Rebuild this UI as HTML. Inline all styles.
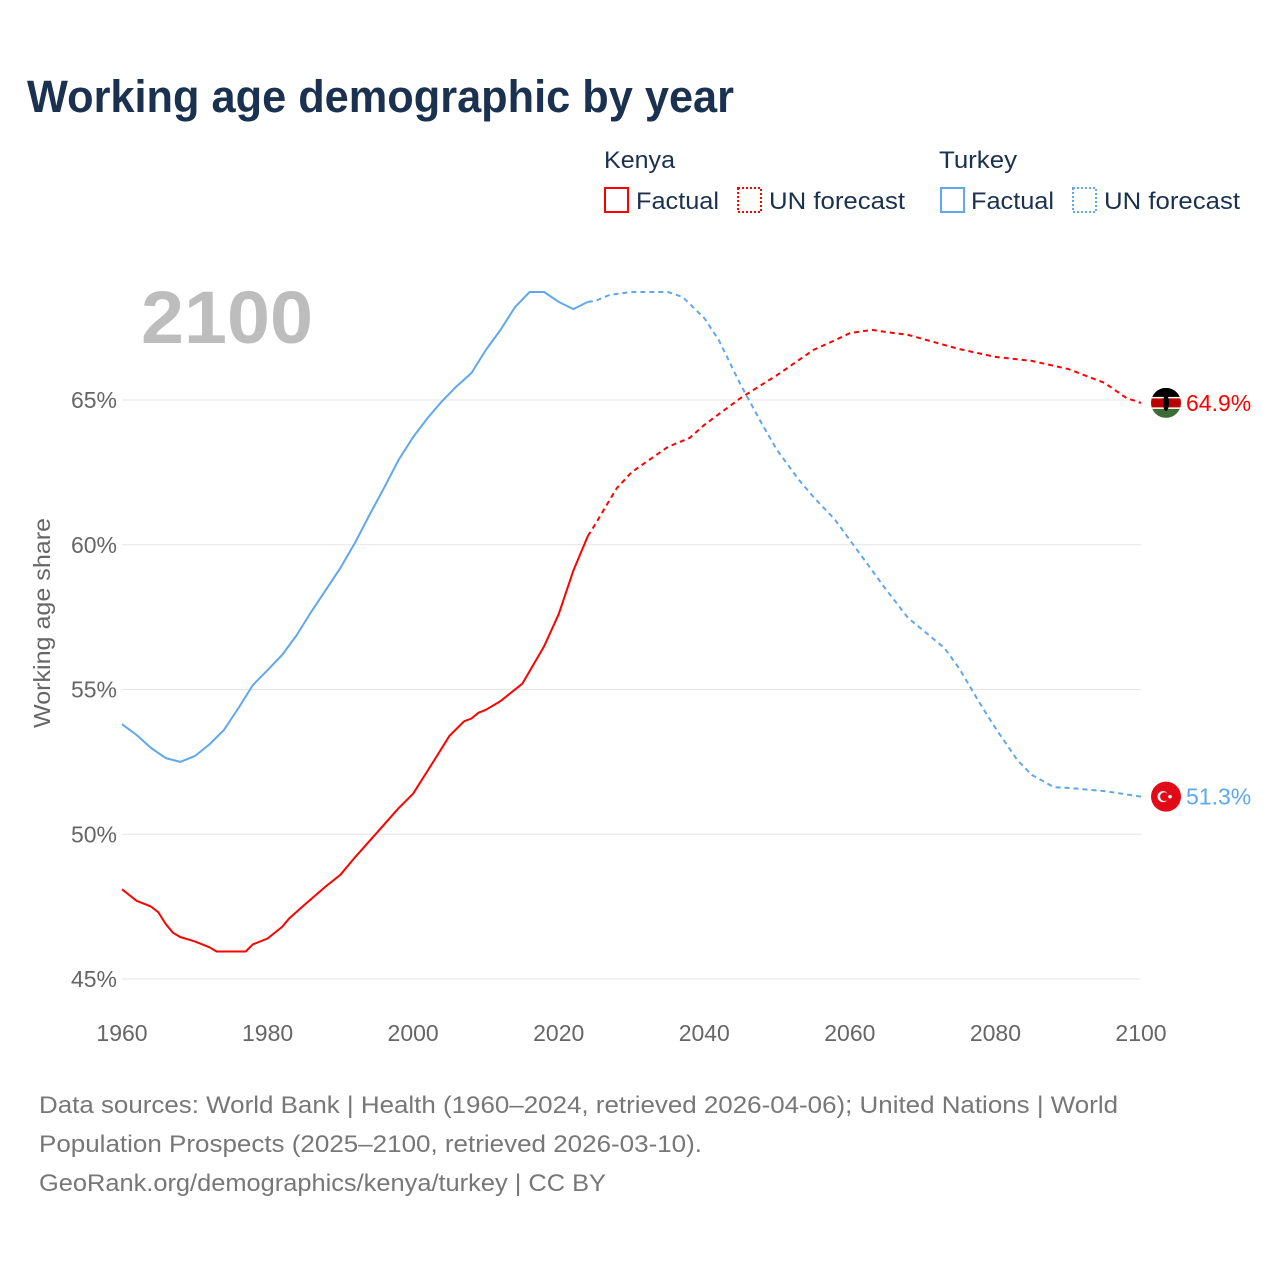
<!DOCTYPE html>
<html><head><meta charset="utf-8"><style>
html,body{margin:0;padding:0;background:#fff;}
body{width:1280px;height:1280px;position:relative;overflow:hidden;font-family:"Liberation Sans",sans-serif;}
svg text{font-family:"Liberation Sans",sans-serif;}
</style></head><body>
<svg id="chart" width="1280" height="1280" xmlns="http://www.w3.org/2000/svg">
<text x="27" y="112" font-size="45" font-weight="bold" fill="#1b3150" textLength="707" lengthAdjust="spacingAndGlyphs">Working age demographic by year</text>
<g>
<text x="604" y="168" font-size="24" fill="#1b3150" textLength="71" lengthAdjust="spacingAndGlyphs">Kenya</text>
<text x="939" y="168" font-size="24" fill="#1b3150" textLength="78" lengthAdjust="spacingAndGlyphs">Turkey</text>
<g><rect x="605" y="188" width="23" height="24" fill="none" stroke="#ff0000" stroke-width="2"/><text x="636" y="209" font-size="24" fill="#1b3150" textLength="83" lengthAdjust="spacingAndGlyphs">Factual</text></g>
<g><rect x="738" y="188" width="23" height="24" fill="none" stroke="#ff0000" stroke-width="2" stroke-dasharray="2,2"/><text x="769" y="209" font-size="24" fill="#1b3150" textLength="136" lengthAdjust="spacingAndGlyphs">UN forecast</text></g>
<g><rect x="941" y="188" width="23" height="24" fill="none" stroke="#5fa8ef" stroke-width="2"/><text x="971" y="209" font-size="24" fill="#1b3150" textLength="83" lengthAdjust="spacingAndGlyphs">Factual</text></g>
<g><rect x="1073" y="188" width="23" height="24" fill="none" stroke="#5fa8ef" stroke-width="2" stroke-dasharray="2,2"/><text x="1104" y="209" font-size="24" fill="#1b3150" textLength="136" lengthAdjust="spacingAndGlyphs">UN forecast</text></g>
</g>
<text x="141" y="343" font-size="74" font-weight="bold" fill="#bdbdbd" textLength="172" lengthAdjust="spacingAndGlyphs">2100</text>
<text transform="translate(50,623) rotate(-90)" text-anchor="middle" font-size="23" fill="#666" textLength="210" lengthAdjust="spacingAndGlyphs">Working age share</text>
<g id="grid"></g><g id="series"></g><g id="ends"></g>
<g font-size="24" fill="#777">
<text x="39" y="1113" textLength="1079" lengthAdjust="spacingAndGlyphs">Data sources: World Bank | Health (1960–2024, retrieved 2026-04-06); United Nations | World</text>
<text x="39" y="1152" textLength="663" lengthAdjust="spacingAndGlyphs">Population Prospects (2025–2100, retrieved 2026-03-10).</text>
<text x="39" y="1191" textLength="567" lengthAdjust="spacingAndGlyphs">GeoRank.org/demographics/kenya/turkey | CC BY</text>
</g>
</svg>
<script>
const yTicks=[45,50,55,60,65];
const xTicks=[1960,1980,2000,2020,2040,2060,2080,2100];
const kenyaFactYears=[1960,1962,1964,1965,1966,1967,1968,1970,1972,1973,1975,1977,1978,1980,1982,1983,1985,1988,1990,1992,1995,1998,2000,2002,2003,2005,2007,2008,2009,2010,2012,2015,2018,2020,2022,2024];
const kenyaFactVals=[48.1,47.7,47.5,47.3,46.9,46.6,46.45,46.3,46.1,45.95,45.95,45.95,46.2,46.4,46.8,47.1,47.55,48.2,48.6,49.2,50.05,50.9,51.4,52.2,52.6,53.4,53.9,54.0,54.2,54.3,54.6,55.2,56.5,57.6,59.1,60.3];
const kenyaFcYears=[2024,2025,2027,2028,2030,2032,2035,2038,2040,2045,2050,2053,2055,2058,2060,2063,2065,2068,2070,2075,2080,2085,2090,2095,2098,2100];
const kenyaFcVals=[60.3,60.7,61.55,61.96,62.5,62.86,63.38,63.69,64.14,65.07,65.86,66.38,66.73,67.07,67.31,67.42,67.35,67.25,67.11,66.76,66.49,66.35,66.07,65.59,65.07,64.9];
const turkeyFactYears=[1960,1962,1964,1966,1968,1970,1972,1974,1976,1978,1980,1982,1984,1986,1988,1990,1992,1994,1996,1998,2000,2002,2004,2006,2008,2010,2012,2014,2016,2018,2020,2022,2024];
const turkeyFactVals=[53.8,53.43,52.98,52.63,52.5,52.7,53.1,53.6,54.36,55.16,55.67,56.19,56.88,57.68,58.44,59.2,60.06,61.03,61.96,62.93,63.72,64.38,64.97,65.48,65.93,66.73,67.42,68.21,68.73,68.73,68.39,68.14,68.39];
const turkeyFcYears=[2024,2025,2027,2030,2035,2037,2040,2042,2045,2048,2050,2053,2055,2058,2060,2063,2065,2068,2070,2073,2075,2078,2080,2083,2085,2088,2090,2095,2100];
const turkeyFcVals=[68.39,68.42,68.63,68.73,68.73,68.56,67.83,67.07,65.52,64.14,63.27,62.24,61.65,60.85,60.16,59.13,58.44,57.47,57.06,56.43,55.74,54.46,53.67,52.56,52.05,51.63,51.6,51.49,51.3];
const NS="http://www.w3.org/2000/svg";
const X=y=>122+(y-1960)*(1141-122)/140;
const Y=v=>979-(v-45)*(979-400)/20;
function mk(t,a,p){const e=document.createElementNS(NS,t);for(const k in a)e.setAttribute(k,a[k]);p.appendChild(e);return e;}
const grid=document.getElementById('grid');
yTicks.forEach(v=>{
 const l=mk('line',{x1:122,x2:1141,y1:Y(v),y2:Y(v),stroke:'#e6e6e6','stroke-width':1},grid);
 
 
 const t=mk('text',{x:117,y:Y(v)+8,'text-anchor':'end','font-size':23,fill:'#666'},grid);t.textContent=v+'%';
 
 
});
xTicks.forEach(y=>{
 const t=mk('text',{x:X(y),y:1041,'text-anchor':'middle','font-size':23,fill:'#666'},grid);t.textContent=y;
 
 
});
const S=document.getElementById('series');
function line(ys,vs,col,dash,name){
 const d=ys.map((y,i)=>(i?'L':'M')+X(y).toFixed(1)+','+Y(vs[i]).toFixed(1)).join('');
 const p=mk('path',{d:d,fill:'none',stroke:col,'stroke-width':2,'stroke-linejoin':'round'},S);
 if(dash)p.setAttribute('stroke-dasharray','5,4');
 
 
}
line(kenyaFactYears,kenyaFactVals,'#ff0000',false,'kenya-factual-line');
line(kenyaFcYears,kenyaFcVals,'#ff0000',true,'kenya-forecast-line');
line(turkeyFactYears,turkeyFactVals,'#5fa8ef',false,'turkey-factual-line');
line(turkeyFcYears,turkeyFcVals,'#5fa8ef',true,'turkey-forecast-line');
const E=document.getElementById('ends');
const kv=kenyaFcVals[kenyaFcVals.length-1], tv=turkeyFcVals[turkeyFcVals.length-1];
const ky=Y(kv), ty=Y(tv);
const kf=mk('g',{},E);


mk('clipPath',{id:'kc'},kf).appendChild(document.createElementNS(NS,'circle')).setAttribute('r',15);
kf.querySelector('circle').setAttribute('cx',1166);kf.querySelector('circle').setAttribute('cy',ky);
const kg=mk('g',{'clip-path':'url(#kc)'},kf);
mk('rect',{x:1150,y:ky-15,width:32,height:10,fill:'#000'},kg);
mk('rect',{x:1150,y:ky-5,width:32,height:10,fill:'#bb0000'},kg);
mk('rect',{x:1150,y:ky+5,width:32,height:10,fill:'#3d6b35'},kg);
mk('rect',{x:1150,y:ky-6,width:32,height:1.5,fill:'#fff'},kg);
mk('rect',{x:1150,y:ky+4.5,width:32,height:1.5,fill:'#fff'},kg);
mk('ellipse',{cx:1166,cy:ky,rx:3,ry:8,fill:'#000'},kg);
const kt=mk('text',{x:1186,y:ky+8,'font-size':23,fill:'#ff0000'},E);kt.textContent=kv.toFixed(1)+'%';


const tf=mk('g',{},E);


mk('circle',{cx:1166,cy:ty,r:15,fill:'#e30a17'},tf);
mk('circle',{cx:1163,cy:ty,r:5.5,fill:'#fff'},tf);
mk('circle',{cx:1164.5,cy:ty,r:4.4,fill:'#e30a17'},tf);
mk('circle',{cx:1170,cy:ty,r:1.8,fill:'#fff'},tf);
const tt=mk('text',{x:1186,y:ty+8,'font-size':23,fill:'#5fa8ef'},E);tt.textContent=tv.toFixed(1)+'%';


</script>
</body></html>
